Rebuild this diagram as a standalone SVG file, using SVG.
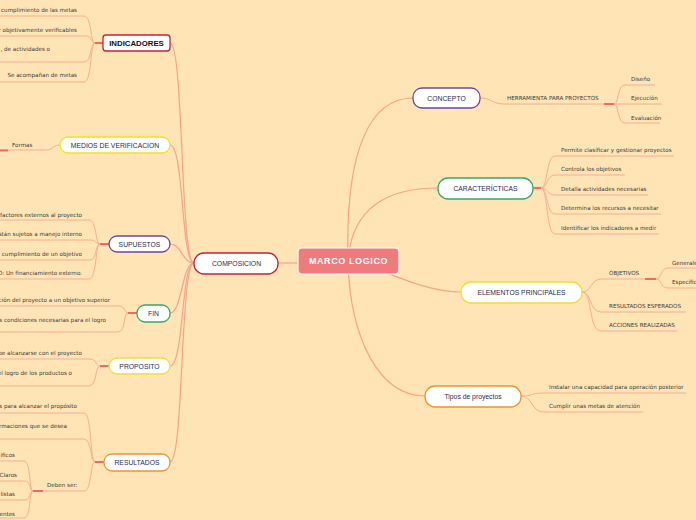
<svg xmlns="http://www.w3.org/2000/svg" width="696" height="520" viewBox="0 0 696 520">
<defs>
<style>
.bg{fill:#FFE4B5}
.c{fill:none;stroke:#F4A38C;stroke-width:1.2}
.u{fill:none;stroke:#F6AE94;stroke-width:1}
.s{fill:none;stroke:#EE6A66;stroke-width:2}
.n{fill:#fff;stroke-width:1.3}
.nt{font-family:"Liberation Sans",Arial,sans-serif;font-size:6.8px;fill:#1F2B57;text-anchor:middle}
.l{font-family:"DejaVu Sans",Verdana,sans-serif;font-size:5.6px;fill:#3A3A3A}
.le{font-family:"DejaVu Sans",Verdana,sans-serif;font-size:5.6px;fill:#3A3A3A;text-anchor:end}
.red{stroke:#C8203A}.pur{stroke:#6E46A0}.grn{stroke:#35A86A}.yel{stroke:#F2DE2E}.org{stroke:#F0932C}
</style>
</defs>
<rect class="bg" x="0" y="0" width="696" height="520"/>
<g id="connectors">
<!-- root to branches -->
<path class="c" d="M278 263 H298"/>
<path class="c" d="M348 261 C345 150 370 98 413 98"/>
<path class="c" d="M348 261 C352 205 390 188 438 188"/>
<path class="c" d="M348 261 C385 268 420 292 461 292"/>
<path class="c" d="M348 261 C350 340 380 396 425 396"/>
<!-- composicion to left nodes -->
<path class="c" d="M194 263 C180 263 184 43 170 43"/>
<path class="c" d="M194 263 C181 263 184 145 170 145"/>
<path class="c" d="M194 263 C182 263 182 244 170 244"/>
<path class="c" d="M194 263 C182 263 182 313 170 313"/>
<path class="c" d="M194 263 C181 263 184 366 170 366"/>
<path class="c" d="M194 263 C180 263 184 462 170 462"/>
<!-- INDICADORES children -->
<path class="s" d="M103 43 H95"/>
<path class="u" d="M95 43 C90 43 92 16 84 16 H0"/>
<path class="u" d="M95 43 C91 43 92 36 86 36 H0"/>
<path class="u" d="M95 43 C90 43 92 62 84 62 H0"/>
<path class="u" d="M95 43 C90 43 92 82 84 82 H0"/>
<!-- MEDIOS -->
<path class="u" d="M60 145 C52 145 54 150 46 150 H0"/>
<path class="s" d="M0 150.5 H8"/>
<!-- SUPUESTOS -->
<path class="s" d="M109 244 H100"/>
<path class="u" d="M100 244 C95 244 97 220 89 220 H0"/>
<path class="u" d="M100 244 C95 244 97 240 90 240 H0"/>
<path class="u" d="M100 244 C95 244 97 260 90 260 H0"/>
<path class="u" d="M100 244 C95 244 97 279 89 279 H0"/>
<!-- FIN -->
<path class="s" d="M137 313 H128"/>
<path class="u" d="M128 313 C124 313 125 306 119 306 H0"/>
<path class="u" d="M128 313 C123 313 126 332 118 332 H0"/>
<!-- PROPOSITO -->
<path class="s" d="M109 366 H100"/>
<path class="u" d="M100 366 C95 366 97 359 90 359 H0"/>
<path class="u" d="M100 366 C95 366 97 386 89 386 H0"/>
<!-- RESULTADOS -->
<path class="s" d="M104 462 H95"/>
<path class="u" d="M95 462 C90 462 92 413 84 413 H0"/>
<path class="u" d="M95 462 C90 462 92 439 84 439 H0"/>
<path class="u" d="M95 462 C90 462 92 491 84 491 H33"/>
<path class="s" d="M43 491 H33"/>
<path class="u" d="M33 491 C29 491 31 461 24 461 H0"/>
<path class="u" d="M33 491 C29 491 31 481 25 481 H0"/>
<path class="u" d="M33 491 C29 491 31 500 25 500 H0"/>
<path class="u" d="M33 491 C29 491 31 518 24 518 H0"/>
<!-- CONCEPTO -->
<path class="u" d="M480 98 C492 98 492 104 504 104 H604"/>
<path class="s" d="M604 104 H614"/>
<path class="u" d="M614 104 C619 104 617 85 625 85 H655"/>
<path class="u" d="M614 104 H662"/>
<path class="u" d="M614 104 C619 104 617 123 625 123 H660"/>
<!-- CARACTERICTICAS -->
<path class="s" d="M533 188 H541"/>
<path class="u" d="M541 188 C548 188 546 156 555 156 H674"/>
<path class="u" d="M541 188 C548 188 546 175 555 175 H625"/>
<path class="u" d="M541 188 C548 188 547 195 555 195 H648"/>
<path class="u" d="M541 188 C548 188 546 214 555 214 H661"/>
<path class="u" d="M541 188 C548 188 546 234 555 234 H659"/>
<!-- ELEMENTOS -->
<path class="u" d="M582 292 C592 292 590 279 602 279 H645"/>
<path class="s" d="M645 279 H656"/>
<path class="u" d="M656 279 C662 279 660 268 668 268 H696"/>
<path class="u" d="M656 279 C662 279 660 288 668 288 H696"/>
<path class="u" d="M582 292 C592 292 589 312 601 312 H686"/>
<path class="u" d="M582 292 C593 292 588 331 601 331 H677"/>
<!-- Tipos -->
<path class="u" d="M521 396 C533 396 532 393 543 393 H686"/>
<path class="u" d="M521 396 C532 396 532 412 543 412 H643"/>
</g>
<g id="root">
<rect x="298" y="248" width="101" height="26" rx="4" fill="#EE7B7E" stroke="#fff" stroke-width="1.2"/>
<text x="348.5" y="264.2" font-family="Liberation Sans,Arial,sans-serif" font-size="9" font-weight="bold" fill="#fff" text-anchor="middle" letter-spacing="0.6">MARCO LOGICO</text>
</g>
<g id="composicion">
<rect class="n red" x="194" y="253" width="84" height="21" rx="10"/>
<text class="nt" x="236.5" y="266">COMPOSICION</text>
</g>
<g id="indicadores">
<rect class="n red" x="103" y="35" width="67" height="16" rx="3"/>
<text x="136.5" y="45.8" font-family="Liberation Sans,Arial,sans-serif" font-size="7.8" font-weight="bold" fill="#111" text-anchor="middle">INDICADORES</text>
<text class="le" x="77" y="12">cumplimiento de las metas</text>
<text class="le" x="77" y="32">r objetivamente verificables</text>
<text class="le" x="50" y="51">, de actividades o</text>
<text class="le" x="77" y="77">Se acompañan de metas</text>
</g>
<g id="medios">
<rect class="n yel" x="60" y="137" width="110" height="16" rx="8"/>
<text class="nt" x="115" y="147.5">MEDIOS DE VERIFICACION</text>
<text class="l" x="12" y="147">Formas</text>
</g>
<g id="supuestos">
<rect class="n pur" x="109" y="236" width="61" height="16" rx="8"/>
<text class="nt" x="139.5" y="246.5">SUPUESTOS</text>
<text class="le" x="82" y="217">factores externos al proyecto</text>
<text class="le" x="82" y="236">stán sujetos a manejo interno</text>
<text class="le" x="82" y="256">cumplimiento de un objetivo</text>
<text class="le" x="82" y="275">O: Un financiamiento externo.</text>
</g>
<g id="fin">
<rect class="n grn" x="137" y="305" width="33" height="17" rx="8"/>
<text class="nt" x="153.5" y="316">FIN</text>
<text class="le" x="110" y="302">ción del proyecto a un objetivo superior</text>
<text class="le" x="106" y="322">s condiciones necesarias para el logro</text>
</g>
<g id="proposito">
<rect class="n yel" x="109" y="358" width="61" height="16" rx="8"/>
<text class="nt" x="139.5" y="368.5">PROPOSITO</text>
<text class="le" x="82" y="355">be alcanzarse con el proyecto</text>
<text class="le" x="72" y="375">el logro de los productos o</text>
</g>
<g id="resultados">
<rect class="n org" x="104" y="454" width="66" height="17" rx="8"/>
<text class="nt" x="137" y="465">RESULTADOS</text>
<text class="le" x="77" y="408">s para alcanzar el propósito</text>
<text class="le" x="67" y="428">ormaciones que se desea</text>
<text class="l" x="47" y="487">Deben ser:</text>
<text class="le" x="15" y="457">ificos</text>
<text class="le" x="17" y="477">Claros</text>
<text class="le" x="15" y="496">listas</text>
<text class="le" x="15" y="516">entes</text>
</g>
<g id="concepto">
<rect class="n pur" x="413" y="88" width="67" height="20" rx="9"/>
<text class="nt" x="446.5" y="100.5">CONCEPTO</text>
<text class="l" x="507" y="100">HERRAMIENTA PARA PROYECTOS</text>
<text class="l" x="631" y="81">Diseño</text>
<text class="l" x="631" y="100">Ejecución</text>
<text class="l" x="631" y="120">Evaluación</text>
</g>
<g id="caracteristicas">
<rect class="n grn" x="438" y="178" width="95" height="21" rx="10"/>
<text class="nt" x="485.5" y="191">CARACTERÍCTICAS</text>
<text class="l" x="561" y="152">Permite clasificar y gestionar proyectos</text>
<text class="l" x="561" y="171">Controla los objetivos</text>
<text class="l" x="561" y="191">Detalla actividades necesarias</text>
<text class="l" x="561" y="210">Determina los recursos a necesitar</text>
<text class="l" x="561" y="230">Identificar los indicadores a medir</text>
</g>
<g id="elementos">
<rect class="n yel" x="461" y="282" width="121" height="21" rx="10"/>
<text class="nt" x="521.5" y="295">ELEMENTOS PRINCIPALES</text>
<text class="l" x="609" y="275">OBJETIVOS</text>
<text class="l" x="672" y="265">Generales</text>
<text class="l" x="672" y="284">Específicos</text>
<text class="l" x="609" y="308">RESULTADOS ESPERADOS</text>
<text class="l" x="609" y="327">ACCIONES REALIZADAS</text>
</g>
<g id="tipos">
<rect class="n org" x="425" y="386" width="96" height="21" rx="10"/>
<text class="nt" x="473" y="399" font-size="7.3">Tipos de proyectos</text>
<text class="l" x="549" y="389">Instalar una capacidad para operación posterior</text>
<text class="l" x="549" y="408">Cumplir unas metas de atención</text>
</g>
</svg>
